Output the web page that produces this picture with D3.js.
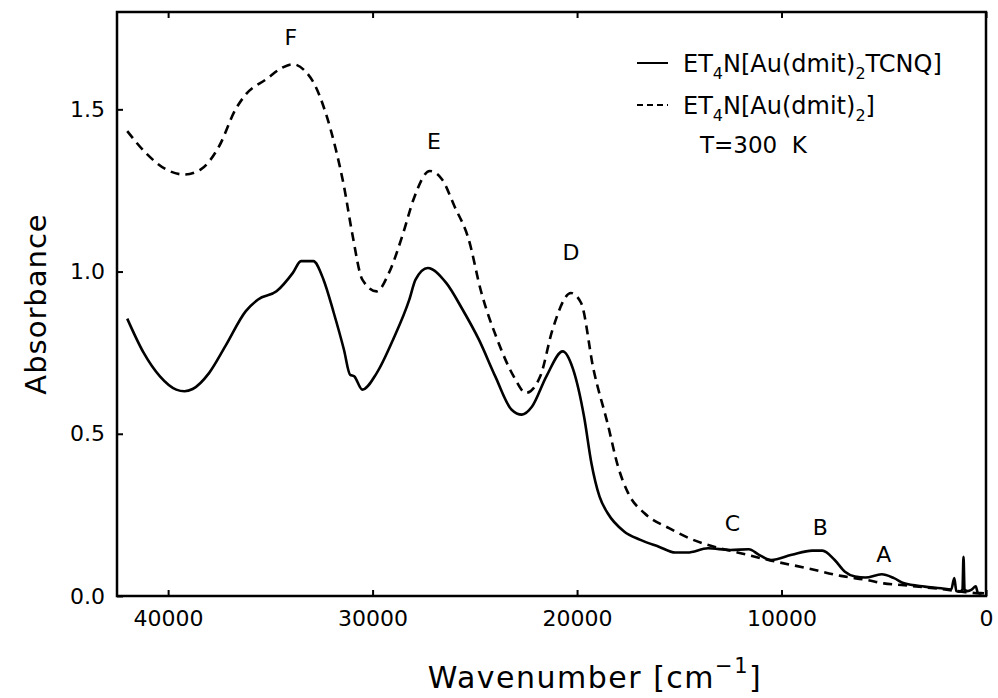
<!DOCTYPE html>
<html><head><meta charset="utf-8">
<script src="https://cdn.jsdelivr.net/npm/d3@7"></script>
<style>
body{margin:0;background:#fff;}
svg{display:block;}
text{font-family:"DejaVu Sans",sans-serif;fill:#000;}
</style></head>
<body>
<svg id="c" width="998" height="698"></svg>
<script>
// Wavenumber (cm^-1), absorbance
const solidWave = [42000,41200,40400,39600,39200,38800,38000,37200,36200,35600,34700,33900,33500,32900,32400,31900,31400,31100,30900,30500,29800,29000,28200,27900,27300,26400,25600,24800,24000,23200,22700,22200,21500,20700,20200,19650,19300,18900,18500,17700,16900,16000,15200,14600,13600,12500,11600,11100,10500,9500,8500,8000,7400,6900,6400,5900,5100,4500,4000,3000,2200,1700,1550,1450,1300,1150,1100,1050,900,700,500,400,100];
const solidAbs  = [0.855,0.75,0.677,0.636,0.631,0.638,0.687,0.770,0.878,0.914,0.939,0.996,1.032,1.032,0.975,0.873,0.759,0.682,0.677,0.636,0.687,0.790,0.914,0.975,1.011,0.965,0.883,0.790,0.677,0.574,0.559,0.584,0.677,0.754,0.70,0.55,0.41,0.306,0.255,0.199,0.173,0.152,0.134,0.134,0.147,0.142,0.144,0.127,0.111,0.127,0.140,0.140,0.111,0.075,0.06,0.057,0.067,0.055,0.039,0.029,0.024,0.02,0.055,0.015,0.013,0.02,0.121,0.02,0.015,0.02,0.03,0.01,0.008];
const dashWave = [42000,41100,40100,39200,38400,37500,36700,36200,35200,34400,33900,33300,32800,32300,31800,31400,31000,30500,29800,29200,28500,28000,27200,26600,26000,25300,24700,23900,23100,22500,21800,21200,20300,19800,19200,18500,18000,17500,16700,15500,14400,13300,12000,10500,8700,7100,5800,5000,4000,3000,2000,1000,100];
const dashAbs  = [1.433,1.366,1.315,1.299,1.315,1.387,1.50,1.546,1.593,1.629,1.639,1.618,1.572,1.49,1.377,1.263,1.119,0.975,0.939,0.996,1.119,1.222,1.31,1.284,1.202,1.099,0.94,0.79,0.677,0.626,0.677,0.821,0.934,0.903,0.70,0.53,0.40,0.317,0.255,0.209,0.175,0.152,0.132,0.109,0.085,0.062,0.049,0.039,0.033,0.027,0.02,0.012,0.006];
const xTicks = [40000,30000,20000,10000,0];
const yTicks = [0,0.5,1.0,1.5];
const peakLabels = ["F","E","D","C","B","A"];
const peakWave = [34000,27000,20300,12400,8100,5000];
const peakAbs  = [1.72,1.40,1.06,0.225,0.21,0.127];

const L=117,R=986,T=12,B=596;
const svg=d3.select("#c");
const x=d3.scaleLinear().domain([42500,0]).range([L,R]);
const y=d3.scaleLinear().domain([0,1.8]).range([B,T]);

const gx=svg.append("g").attr("transform",`translate(0,${B})`)
  .call(d3.axisBottom(x).tickValues(xTicks).tickSizeInner(-6).tickSizeOuter(0).tickPadding(14).tickFormat(d3.format("d")));
const gxt=svg.append("g").attr("transform",`translate(0,${T})`)
  .call(d3.axisTop(x).tickValues(xTicks).tickSizeInner(-6).tickSizeOuter(0).tickFormat(""));
const gy=svg.append("g").attr("transform",`translate(${L},0)`)
  .call(d3.axisLeft(y).tickValues(yTicks).tickSizeInner(-6).tickSizeOuter(0).tickPadding(12).tickFormat(d3.format(".1f")));
[gx,gxt,gy].forEach(g=>{
  g.select(".domain").remove();
  g.selectAll("line").attr("stroke","#000").attr("stroke-width",2);
  g.selectAll("text").style("font-size","22px").attr("fill","#000");
});
svg.append("rect").attr("x",L).attr("y",T).attr("width",R-L).attr("height",B-T)
  .attr("fill","none").attr("stroke","#000").attr("stroke-width",2.5);

const line=d3.line().x(d=>x(d[0])).y(d=>y(d[1])).curve(d3.curveMonotoneX);
svg.append("path").datum(solidWave.map((w,i)=>[w,solidAbs[i]]))
  .attr("d",line).attr("fill","none").attr("stroke","#000").attr("stroke-width",2.6);
svg.append("path").datum(dashWave.map((w,i)=>[w,dashAbs[i]]))
  .attr("d",line).attr("fill","none").attr("stroke","#000").attr("stroke-width",2.6).attr("stroke-dasharray","9,6");

peakLabels.forEach((t,i)=>{
  svg.append("text").attr("x",x(peakWave[i])).attr("y",y(peakAbs[i])).attr("text-anchor","middle")
    .attr("dominant-baseline","central").style("font-size","22px").text(t);
});

svg.append("text").attr("transform",`translate(36,${(T+B)/2}) rotate(-90)`).attr("text-anchor","middle")
  .attr("dominant-baseline","central").style("font-size","29px").style("letter-spacing","1px").text("Absorbance");
const xt=svg.append("text").attr("x",595).attr("y",688).attr("text-anchor","middle")
  .style("font-size","30px").style("letter-spacing","1.5px");
xt.append("tspan").text("Wavenumber [cm");
xt.append("tspan").attr("dy",-15).style("font-size","21px").text("−1");
xt.append("tspan").attr("dy",15).text("]");

const lg=svg.append("g");
lg.append("line").attr("x1",637).attr("x2",668).attr("y1",63).attr("y2",63).attr("stroke","#000").attr("stroke-width",2);
lg.append("line").attr("x1",637).attr("x2",668).attr("y1",105).attr("y2",105).attr("stroke","#000").attr("stroke-width",2).attr("stroke-dasharray","6,4");
function chem(yy,parts){
  const t=lg.append("text").attr("x",683).attr("y",yy).style("font-size","24px");
  parts.forEach(p=>{
    if(p.sub){t.append("tspan").attr("dy",7).style("font-size","16px").text(p.s);}
    else{t.append("tspan").attr("dy",p.after?-7:0).text(p.s);}
  });
}
chem(72,[{s:"ET"},{s:"4",sub:1},{s:"N[Au(dmit)",after:1},{s:"2",sub:1},{s:"TCNQ]",after:1}]);
chem(114,[{s:"ET"},{s:"4",sub:1},{s:"N[Au(dmit)",after:1},{s:"2",sub:1},{s:"]",after:1}]);
lg.append("text").attr("x",700).attr("y",153).style("font-size","23px").style("white-space","pre").text("T=300  K");
</script>
</body></html>
